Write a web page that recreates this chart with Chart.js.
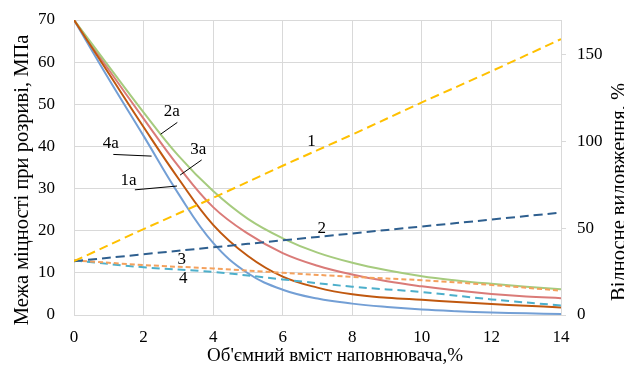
<!DOCTYPE html>
<html>
<head>
<meta charset="utf-8">
<script src="https://cdn.jsdelivr.net/npm/chart.js@4"></script>
<style>
  body { margin: 0; background: #fff; }
  canvas { display: block; }
</style>
</head>
<body>
<canvas id="chart" width="624" height="365"></canvas>
<script>
// filler content, % (x axis)
const xs = [0, 1, 2, 3, 4, 5, 6, 7, 8, 9, 10, 11, 12, 13, 14];
const xsEven = [0, 2, 4, 6, 8, 10, 12, 14];

// tensile strength, MPa (left axis)
const s1a = [70, 57.3, 44.6, 32.4, 21.4, 14, 9.1, 6.5, 4.9, 4.1, 3.6, 3.1, 2.6, 2.2, 1.8];
const s2a = [70, 59, 48.1, 37.8, 29.4, 22.8, 18.2, 14.8, 12.4, 10.6, 9.2, 8.2, 7.4, 6.7, 6.1];
const s3a = [70, 58.2, 46.6, 35.3, 25.6, 19.3, 14.7, 11.7, 9.6, 8.0, 6.8, 5.8, 5.0, 4.4, 4.0];
const s4a = [70, 56, 42.5, 28.8, 17.1, 9.9, 6.0, 3.9, 2.7, 1.9, 1.3, 0.9, 0.6, 0.4, 0.25];

// relative elongation, % (right axis)
const e1 = [31, 49.5, 67.5, 86, 104, 122.5, 140.5, 159];
const e2 = [31, 35, 39, 43, 47, 51, 55, 59];
const e3 = [31.5, 28.8, 26.8, 24.3, 22, 20, 17.3, 14];
const e4 = [31.5, 27.5, 24.8, 20.5, 16.3, 13.2, 9, 5.5];

const leftTicks = [0, 10, 20, 30, 40, 50, 60, 70];
const rightTicks = [0, 50, 100, 150];

const serif = '"Liberation Serif", "Times New Roman", serif';

const pts = (x, y) => x.map((v, i) => ({ x: v, y: y[i] }));

const solid = (label, data, color) => ({
  label, data: pts(xs, data), yAxisID: 'y',
  borderColor: color, borderWidth: 2, tension: 0.4
});
const dashed = (label, data, color, dash) => ({
  label, data: pts(xsEven, data), yAxisID: 'y2',
  borderColor: color, borderWidth: 2, borderDash: dash, tension: 0.4
});

// curve labels and leader lines, in axis units (x, MPa)
const notes = [
  { t: '1', x: 6.83, y: 41.1 }, { t: '2', x: 7.12, y: 20.6 },
  { t: '3', x: 3.1, y: 13.05 }, { t: '4', x: 3.14, y: 8.7 },
  { t: '1a', x: 1.57, y: 31.8 }, { t: '2a', x: 2.81, y: 48.2 },
  { t: '3a', x: 3.57, y: 39.2 }, { t: '4a', x: 1.06, y: 40.7 }
];
const leaders = [
  [2.49, 42.9, 2.97, 45.7], [3.05, 33.2, 3.67, 36.8],
  [1.13, 38.1, 2.23, 37.7], [1.75, 29.7, 2.96, 30.6]
];

const extras = {
  id: 'extras',
  afterDatasetsDraw(chart) {
    const { ctx, scales: { x, y } } = chart;
    ctx.save();
    ctx.strokeStyle = '#000';
    ctx.lineWidth = 1;
    leaders.forEach(l => {
      ctx.beginPath();
      ctx.moveTo(x.getPixelForValue(l[0]), y.getPixelForValue(l[1]));
      ctx.lineTo(x.getPixelForValue(l[2]), y.getPixelForValue(l[3]));
      ctx.stroke();
    });
    ctx.fillStyle = '#000';
    ctx.font = '17px ' + serif;
    ctx.textAlign = 'center';
    ctx.textBaseline = 'middle';
    notes.forEach(n => ctx.fillText(n.t, x.getPixelForValue(n.x), y.getPixelForValue(n.y)));

    // axis titles
    ctx.textBaseline = 'alphabetic';
    ctx.font = '19px ' + serif;
    ctx.fillText("Об'ємний вміст наповнювача,%", 335, 361);
    ctx.font = '20.5px ' + serif;
    ctx.save();
    ctx.translate(28, 180);
    ctx.rotate(-Math.PI / 2);
    ctx.fillText('Межа міцності при розриві, МПа', 0, 0);
    ctx.restore();
    ctx.save();
    ctx.translate(625, 192);
    ctx.rotate(-Math.PI / 2);
    ctx.fillText('Відносне видовження, %', 0, 0);
    ctx.restore();
    ctx.restore();
  }
};

const noPad = s => { s.paddingTop = 0; s.paddingBottom = 0; s.paddingLeft = 0; s.paddingRight = 0; };

new Chart(document.getElementById('chart'), {
  type: 'line',
  data: {
    datasets: [
      dashed('1', e1, '#FFC000', [9, 5]),
      dashed('2', e2, '#2E5F8F', [9, 5]),
      dashed('3', e3, '#F4A15D', [5, 3]),
      dashed('4', e4, '#4DAFCB', [8, 5]),
      solid('1a', s1a, '#C0580F'),
      solid('2a', s2a, '#A6CB7E'),
      solid('3a', s3a, '#DA7B78'),
      solid('4a', s4a, '#739FD5')
    ]
  },
  options: {
    responsive: false,
    animation: false,
    layout: { padding: { top: 20 } },
    elements: { point: { radius: 0 } },
    plugins: { legend: { display: false }, tooltip: { enabled: false } },
    scales: {
      x: {
        type: 'linear', min: 0, max: 14,
        ticks: { stepSize: 2, color: '#000', padding: 12, font: { family: serif, size: 17 } },
        grid: { color: '#d9d9d9', drawTicks: false },
        border: { display: false },
        afterFit: s => { noPad(s); s.height = 50; }
      },
      y: {
        position: 'left', min: 0, max: 70,
        afterBuildTicks: s => { s.ticks = leftTicks.map(v => ({ value: v })); },
        ticks: { color: '#000', padding: 19, font: { family: serif, size: 17 } },
        grid: { color: '#d9d9d9', drawTicks: false },
        border: { display: false },
        afterFit: s => { noPad(s); s.width = 74; }
      },
      y2: {
        position: 'right', min: 0, max: 170,
        afterBuildTicks: s => { s.ticks = rightTicks.map(v => ({ value: v })); },
        ticks: { color: '#000', padding: 11, font: { family: serif, size: 17 } },
        grid: { drawOnChartArea: false, color: '#d9d9d9', tickLength: 5 },
        border: { color: '#d9d9d9' },
        afterFit: s => { noPad(s); s.width = 63; }
      }
    }
  },
  plugins: [extras]
});
</script>
</body>
</html>
